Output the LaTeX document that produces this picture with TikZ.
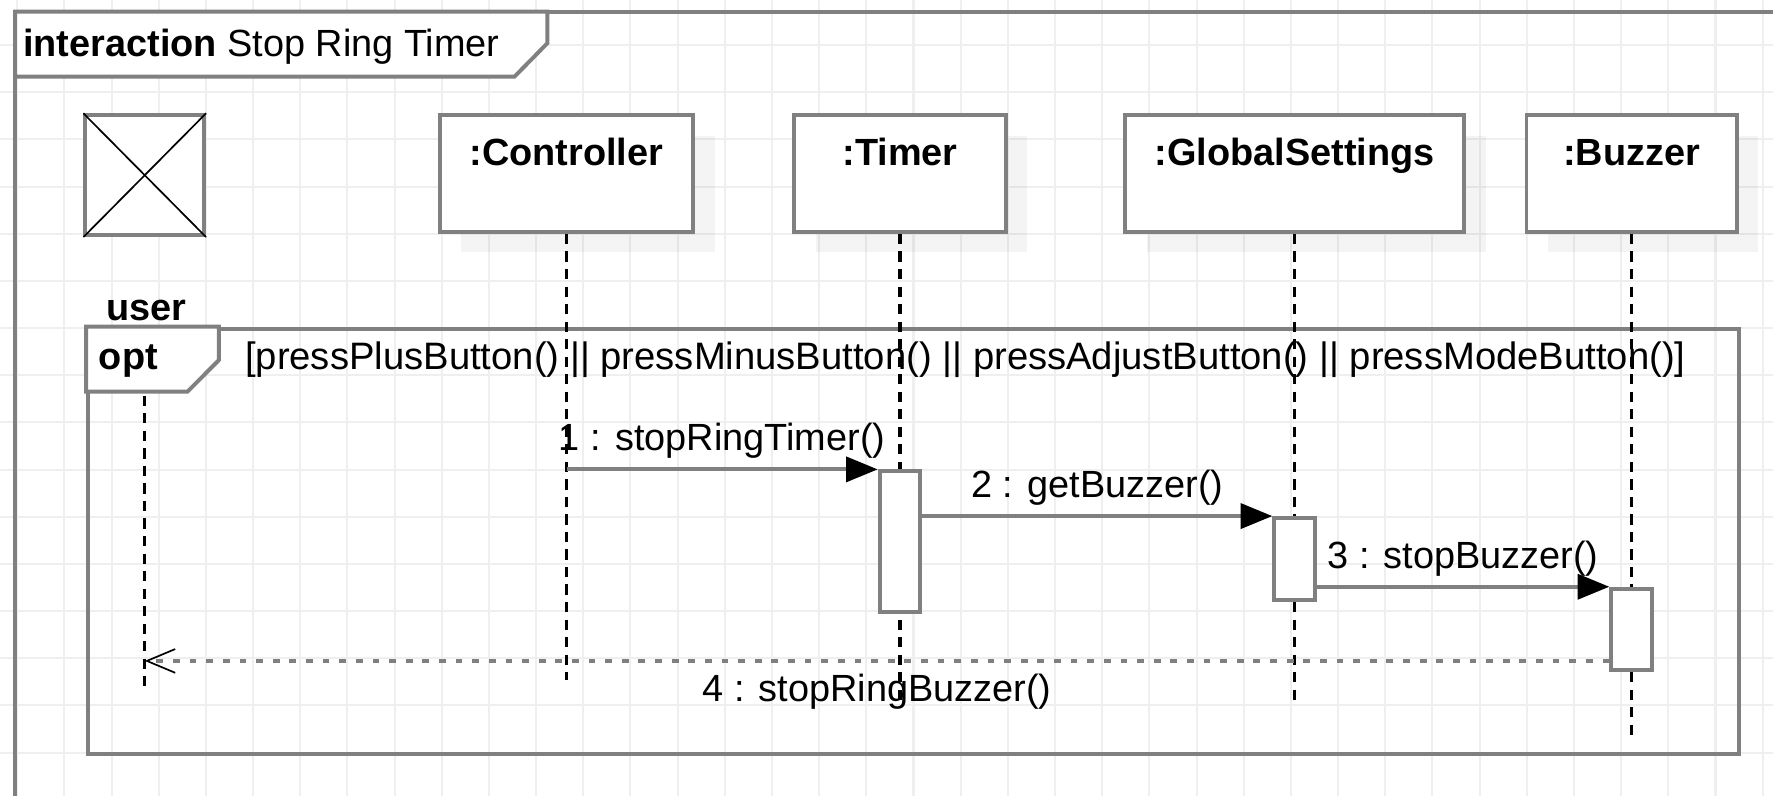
\documentclass[tikz,border=0pt]{standalone}
\usepackage{fontspec}
\setmainfont{Liberation Sans}
\usetikzlibrary{arrows.meta,shadows}
\definecolor{linegray}{HTML}{808080}
\definecolor{gridgray}{HTML}{EFEFEF}

\begin{document}
\begin{tikzpicture}[x=1pt, y=-1pt,
    font=\fontsize{33.5}{40}\selectfont,
    gridline/.style={draw=gridgray, line width=1.8pt},
    frameline/.style={draw=linegray, line width=3.5pt},
    lifebox/.style={draw=linegray, line width=3.5pt, fill=white, anchor=north,
        minimum height=103pt, text height=24pt, text depth=37.6pt,
        inner ysep=20.8pt, inner xsep=0pt,
        drop shadow={shadow xshift=19pt, shadow yshift=-18pt, fill=black, opacity=.045}},
    activation/.style={draw=linegray, line width=3.5pt, fill=white, anchor=north,
        minimum width=36pt, inner sep=0pt},
    lifeline/.style={draw=black, line width=3pt, dash pattern=on 9pt off 6.5pt},
    msg/.style={draw=linegray, line width=3.5pt,
        -{Triangle[length=28pt, width=22pt, color=black]}},
    reply/.style={draw=linegray, line width=3.5pt, dash pattern=on 6pt off 8.7pt,
        -{Straight Barb[length=25pt, width=21pt, line width=1.5pt, color=black]}},
    msglabel/.style={midway, anchor=base, inner sep=0pt}
]
    \useasboundingbox (0,0) rectangle (1568,704);

    % Grid
    \foreach \i in {0,...,37}
        \draw[gridline] ({15.2+41.72*\i},0) -- ({15.2+41.72*\i},704);
    \foreach \j in {1,...,16}
        \draw[gridline] (0,{-1.9+41.72*\j}) -- (1568,{-1.9+41.72*\j});

    % Frames
    \draw[frameline] (13.5,704) -- (13.5,10.3) -- (1568,10.3);
    \draw[frameline, fill=white] (13.5,10.3) -- ++(470.5,0) -- ++(0,28) -- ++(-29,29.5) -- ++(-441.5,0) -- cycle;
    \node[anchor=base west, inner sep=0pt] (title) at (20.3,50.1) {\textbf{interaction} Stop Ring Timer};

    \node[frameline, anchor=north west, minimum width=1460pt, minimum height=376pt, inner sep=0pt] (opt) at (76.2,288.9) {};
    \draw[frameline, fill=white] (opt.north west) -- ++(117.4,0) -- ++(0,29.5) -- ++(-27.8,28) -- ++(-89.6,0) -- cycle;
    \node[anchor=base west, inner sep=0pt] (optlabel) at (87.3,326.6) {\textbf{opt}};
    \node[anchor=base west, inner sep=0pt, font=\fontsize{33.8}{40}\selectfont] (guard) at (216.6,326.6) {[pressPlusButton() || pressMinusButton() || pressAdjustButton() || pressModeButton()]};

    % Nodes
    \node[draw=linegray, line width=3.5pt, fill=white, anchor=north, minimum width=105pt, minimum height=106pt, inner sep=0pt] (user) at (128,100.2) {};
    \draw[black, line width=1.5pt] (user.north west) -- (user.south east) (user.north east) -- (user.south west);
    \node[lifebox, minimum width=224pt] (controller) at (501,100.2) {\textbf{:Controller}};
    \node[lifebox, minimum width=187pt] (timer) at (796,100.2) {\textbf{:Timer}};
    \node[lifebox, minimum width=300pt] (settings) at (1145,100.2) {\textbf{:GlobalSettings}};
    \node[lifebox, minimum width=186pt] (buzzer) at (1443,100.2) {\textbf{:Buzzer}};
    \node[anchor=base, inner sep=0pt] (userlabel) at (129.5,283) {\textbf{user}};

    % Lifelines
    \coordinate (userTop) at (128,350);
    \coordinate (userEnd) at (128,610);
    \coordinate (controllerEnd) at (501,601.4);
    \coordinate (timerEnd) at (796,620.6);
    \coordinate (settingsEnd) at (1145,620.6);
    \coordinate (buzzerEnd) at (1443,650.5);
    \draw[lifeline] (userTop) -- (userEnd);
    \draw[lifeline] (controller) -- (controllerEnd);
    \draw[lifeline] (timer) -- (timerEnd);
    \draw[lifeline] (settings) -- (settingsEnd);
    \draw[lifeline] (buzzer) -- (buzzerEnd);

    \node[activation, minimum height=124.4pt] (timerAct) at (796,415.1) {};
    \node[activation, minimum height=72.8pt] (settingsAct) at (1145,456.4) {};
    \node[activation, minimum height=72.1pt] (buzzerAct) at (1443,518.9) {};

    % Arrows
    \draw[msg] (timerAct.north west -| controller) -- node[msglabel, yshift=16.5pt] {1 : stopRingTimer()} (timerAct.north west);
    \draw[msg] (settingsAct.north west -| timerAct.east) -- node[msglabel, yshift=16.5pt] {2 : getBuzzer()} (settingsAct.north west);
    \draw[msg] (buzzerAct.north west -| settingsAct.east) -- node[msglabel, yshift=16.5pt] {3 : stopBuzzer()} (buzzerAct.north west);
    \coordinate (replyStart) at ([yshift=10pt]buzzerAct.south west);
    \draw[reply] (replyStart) -- node[msglabel, yshift=-36.3pt] {4 : stopRingBuzzer()} (replyStart -| user);
\end{tikzpicture}
\end{document}
